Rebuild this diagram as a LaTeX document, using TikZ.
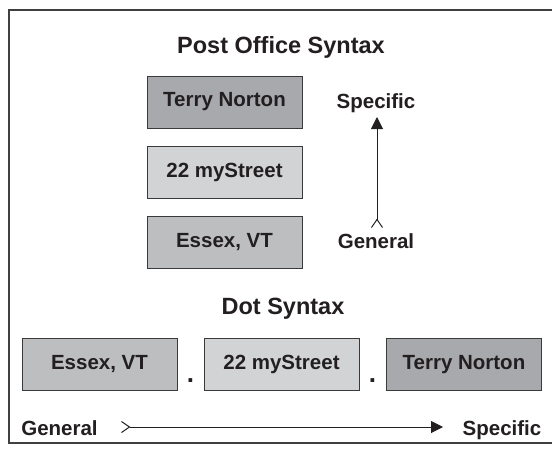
\documentclass[tikz,border=0pt]{standalone}
\usepackage{fontspec}
\setmainfont{Liberation Sans}
\usetikzlibrary{arrows.meta}
\definecolor{txt}{HTML}{231F20}
\definecolor{boxline}{HTML}{3A3A3A}
\definecolor{darkgrey}{HTML}{A7A9AC}
\definecolor{midgrey}{HTML}{BCBEC0}
\definecolor{lightgrey}{HTML}{D1D3D4}
\definecolor{framecol}{HTML}{404040}
\begin{document}
\begin{tikzpicture}[x=1pt,y=-1pt,
  addrbox/.style={draw=boxline, line width=1pt, minimum width=155pt, minimum height=52pt,
    inner sep=0pt, font=\fontsize{20.5}{24}\selectfont\bfseries, text=txt},
  lbl/.style={font=\fontsize{20.5}{24}\selectfont\bfseries, text=txt, inner sep=0pt, anchor=base},
  ttl/.style={font=\fontsize{23.5}{28}\selectfont\bfseries, text=txt, inner sep=0pt, anchor=base},
  dotsep/.style={font=\fontsize{26}{28}\selectfont\bfseries, text=txt, inner sep=0pt, anchor=base},
  dirarrow/.style={line width=1pt, draw=txt,
    {Straight Barb[reversed,length=8pt,width=11pt,line width=1pt]}-{Triangle[length=12pt,width=12pt]}}
]
\useasboundingbox (0,0) rectangle (552,448);
\fill[white] (0,0) rectangle (552,448);
% frame
\draw[framecol, line width=1.8pt] (552,10) -- (9,10) -- (9,443) -- (552,443);

% Post Office Syntax
\node[ttl] (t1) at (281,53) {Post Office Syntax};
\node[addrbox, fill=darkgrey]  (pname)   at (224.5,102) {Terry Norton};
\node[addrbox, fill=lightgrey] (pstreet) at (224.5,172) {22 myStreet};
\node[addrbox, fill=midgrey]   (pcity)   at (224.5,242) {Essex, VT};

\node[lbl] (spec1) at (376,108) {Specific};
\node[lbl] (gen1) at (376,248) {General};
\coordinate (v1) at (377,228);
\coordinate (v2) at (377,117);
\draw[dirarrow] (v1) -- (v2);

% Dot Syntax
\node[ttl] (t2) at (283,314) {Dot Syntax};
\node[addrbox, fill=midgrey]   (dcity)   at (99.5,364.5) {Essex, VT};
\node[addrbox, fill=lightgrey] (dstreet) at (281.5,364.5) {22 myStreet};
\node[addrbox, fill=darkgrey]  (dname)   at (464,364.5) {Terry Norton};
\node[dotsep] (dot1) at (190.5,382) {.};
\node[dotsep] (dot2) at (372.5,382) {.};

\node[lbl] (gen2) at (59.5,435) {General};
\node[lbl] (spec2) at (502,435) {Specific};
\coordinate (h1) at (121,427);
\coordinate (h2) at (443,427);
\draw[dirarrow] (h1) -- (h2);
\end{tikzpicture}
\end{document}
